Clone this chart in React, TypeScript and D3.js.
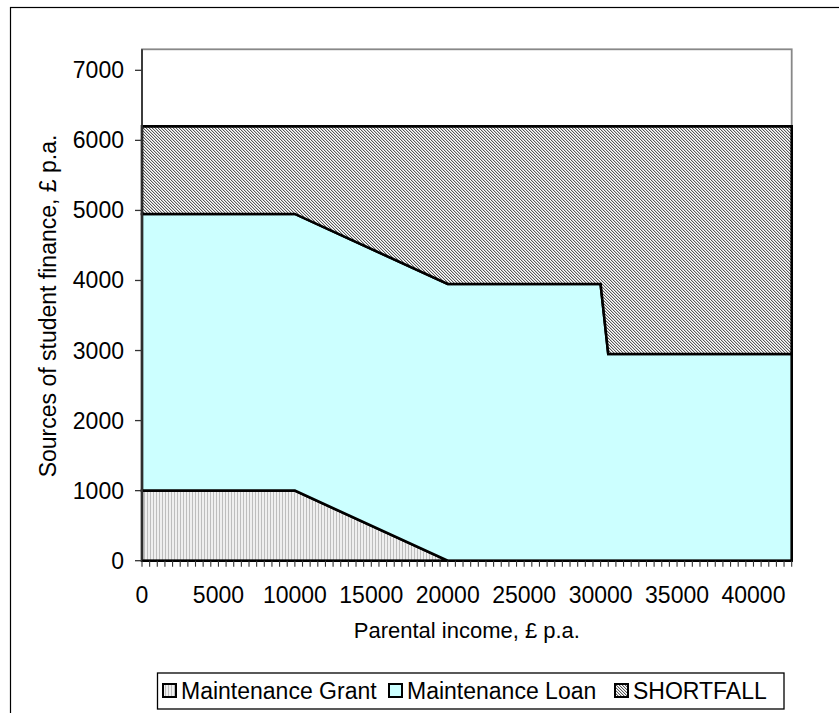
import React from 'react';
import * as d3 from 'd3';

// ---- data ----
const income = [0, 10000, 20000, 30000, 30500, 42500];
const grant = [1000, 1000, 0, 0, 0, 0];
const loan = [3950, 3950, 3950, 3950, 2950, 2950];
const shortfall = [1250, 1250, 2250, 2250, 3250, 3250];
const seriesKeys = ['grant', 'loan', 'shortfall'];
const seriesNames = ['Maintenance Grant', 'Maintenance Loan', 'SHORTFALL'];
const yTickValues = [0, 1000, 2000, 3000, 4000, 5000, 6000, 7000];
const xLabelValues = [0, 5000, 10000, 15000, 20000, 25000, 30000, 35000, 40000];
const xMax = 42500;
const yMax = 7300;
const xMinorStep = 500;
const xTitle = 'Parental income, £ p.a.';
const yTitle = 'Sources of student finance, £ p.a.';

const W = 839;
const H = 713;
const L = 142;
const R = 791.7;
const T = 49.3;
const B = 560.7;
const FONT = '"Liberation Sans", Arial, sans-serif';
const FS = 23;

const fills = ['url(#grantPat)', '#CCFFFF', 'url(#shortPat)'];

export default function App() {
  const x = d3.scaleLinear().domain([0, xMax]).range([L, R]);
  const y = d3.scaleLinear().domain([0, yMax]).range([B, T]);

  const rows = income.map((v, i) => ({
    income: v,
    grant: grant[i],
    loan: loan[i],
    shortfall: shortfall[i],
  }));
  const stacked = d3.stack<any>().keys(seriesKeys)(rows);
  const area = d3
    .area<any>()
    .x((d) => x(d.data.income))
    .y0((d) => y(d[0]))
    .y1((d) => y(d[1]));

  const minorTicks = d3.range(0, xMax + 1, xMinorStep);

  const legendItems = [
    { sq: 163, tx: 181 },
    { sq: 389, tx: 407 },
    { sq: 615, tx: 633 },
  ];

  return (
    <svg
      width={W}
      height={H}
      style={{ position: 'absolute', left: 0, top: 0, background: '#fff' }}
      fontFamily={FONT}
    >
      <defs>
        <pattern id="grantPat" width={3} height={3} patternUnits="userSpaceOnUse">
          <rect width={3} height={3} fill="#efefef" />
          <rect x={0} width={1} height={3} fill="#bdbdbd" />
        </pattern>
        <pattern id="shortPat" width={3} height={3} patternUnits="userSpaceOnUse" shapeRendering="crispEdges">
          <rect width={3} height={3} fill="#ffffff" />
          <rect x={0} y={0} width={1} height={1} fill="#5a5a5a" />
          <rect x={1} y={1} width={1} height={1} fill="#5a5a5a" />
          <rect x={2} y={2} width={1} height={1} fill="#5a5a5a" />
          <rect x={1} y={0} width={1} height={1} fill="#cfcfcf" />
          <rect x={2} y={1} width={1} height={1} fill="#cfcfcf" />
          <rect x={0} y={2} width={1} height={1} fill="#cfcfcf" />
        </pattern>
      </defs>

      {/* outer chart border */}
      <rect x={10.5} y={7.5} width={1000} height={1000} fill="none" stroke="#000" strokeWidth={1.2} />

      {/* plot area border */}
      <rect x={L} y={T} width={R - L} height={B - T} fill="#fff" stroke="#888" strokeWidth={1.8} />

      {/* areas */}
      {stacked.map((s, i) => (
        <path key={s.key} d={area(s) || ''} fill={fills[i]} stroke="#000" strokeWidth={2.6} strokeLinejoin="miter" />
      ))}

      {/* axes */}
      <line x1={L} x2={L} y1={T} y2={B} stroke="#333" strokeWidth={1.8} />
      <line x1={L} x2={R} y1={B} y2={B} stroke="#000" strokeWidth={2} />

      {yTickValues.map((v) => (
        <g key={'y' + v}>
          <line x1={L - 7} x2={L} y1={y(v)} y2={y(v)} stroke="#333" strokeWidth={1.3} />
          <text x={124} y={y(v) + 8} textAnchor="end" fontSize={FS} fill="#000">
            {v}
          </text>
        </g>
      ))}

      {minorTicks.map((v) => (
        <line key={'xt' + v} x1={x(v)} x2={x(v)} y1={B} y2={B + 6} stroke="#333" strokeWidth={1.1} />
      ))}
      {xLabelValues.map((v) => (
        <text key={'xl' + v} x={x(v)} y={603} textAnchor="middle" fontSize={FS} fill="#000">
          {v}
        </text>
      ))}

      <text x={(L + R) / 2} y={638} textAnchor="middle" fontSize={FS - 1} fill="#000">
        {xTitle}
      </text>
      <text
        transform={`translate(56, ${(T + B) / 2 + 1}) rotate(-90)`}
        textAnchor="middle"
        fontSize={FS}
        fill="#000"
      >
        {yTitle}
      </text>

      {/* legend */}
      <rect x={157.5} y={673} width={626.5} height={36} fill="#fff" stroke="#000" strokeWidth={1.3} />
      {seriesNames.map((name, i) => (
        <g key={name}>
          <rect
            x={legendItems[i].sq}
            y={684}
            width={13}
            height={13}
            fill={fills[i]}
            stroke="#000"
            strokeWidth={2}
          />
          <text x={legendItems[i].tx} y={699} fontSize={FS} fill="#000">
            {name}
          </text>
        </g>
      ))}
    </svg>
  );
}
